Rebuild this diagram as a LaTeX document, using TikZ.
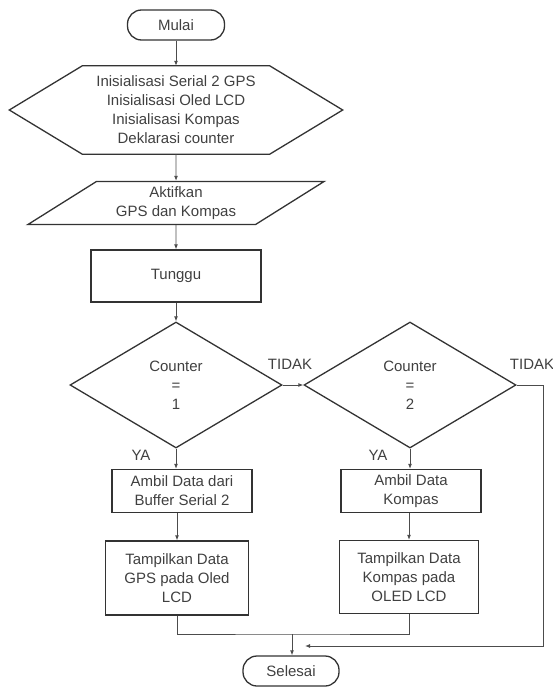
\documentclass[tikz,border=0pt]{standalone}
\usepackage{fontspec}
\setmainfont{Liberation Sans}
\usetikzlibrary{shapes.geometric,arrows.meta}

\begin{document}
\begin{tikzpicture}[x=1pt,y=-1pt, every node/.style={font=\fontsize{15}{19}\selectfont,text=black!75,align=center}, bentuk/.style={draw=black!80,line width=1.3pt}, terminal/.style={bentuk,rounded corners=14pt,minimum height=30pt}, proses/.style={bentuk,rectangle}, keputusan/.style={bentuk,diamond,minimum width=212pt,minimum height=126pt,inner sep=0pt}, masukan/.style={bentuk,trapezium,trapezium left angle=36,trapezium right angle=144,trapezium stretches=true,minimum width=297pt,minimum height=43pt}, garis/.style={draw=black!70,line width=0.9pt}, panah/.style={garis,-{Latex[length=5pt,width=4pt]}}]
\useasboundingbox (0,0) rectangle (553,690);

\node[terminal,minimum width=97pt] (mulai) at (176,25) {Mulai};
\node[minimum width=187pt,minimum height=88pt] (init) at (176,110) {Inisialisasi Serial 2 GPS\\Inisialisasi Oled LCD\\Inisialisasi Kompas\\Deklarasi counter};
\draw[bentuk] (init.north west) -- (init.north east) -- ([xshift=73pt]init.east) -- (init.south east) -- (init.south west) -- ([xshift=-73pt]init.west) -- cycle;
\node[masukan] (aktif) at (176,203) {Aktifkan\\GPS dan Kompas};
\node[proses,minimum width=170pt,minimum height=52pt] (tunggu) at (176,276) {Tunggu};
\node[keputusan] (c1) at (176,385) {Counter\\=\\1};
\node[keputusan] (c2) at (410,385) {Counter\\=\\2};
\node[proses,minimum width=140pt,minimum height=43pt] (ambil1) at (182,491) {Ambil Data dari\\Buffer Serial 2};
\node[proses,minimum width=140pt,minimum height=43pt] (ambil2) at (411,491) {Ambil Data\\Kompas};
\node[proses,minimum width=143pt,minimum height=74pt] (tampil1) at (177,578) {Tampilkan Data\\GPS pada Oled\\LCD};
\node[proses,minimum width=139pt,minimum height=73pt] (tampil2) at (409,577) {Tampilkan Data\\Kompas pada\\OLED LCD};
\node[terminal,minimum width=96pt] (selesai) at (291,671) {Selesai};

\node (tidak1) at (290,364) {TIDAK};
\node (tidak2) at (532,364) {TIDAK};
\node (ya1) at (141,455) {YA};
\node (ya2) at (378,455) {YA};

\coordinate (gabung) at (292,634);
\coordinate (sudut) at (543,646);
\coordinate (masuk) at (305,646);

\draw[panah] (mulai) -- (init.north);
\draw[panah] (init.south) -- (aktif);
\draw[panah] (aktif) -- (tunggu);
\draw[panah] (tunggu) -- (c1);
\draw[panah] (c1) -- (c2);
\draw[panah] (c1.south) -- (c1.south |- ambil1.north);
\draw[panah] (ambil1.south -| tampil1) -- (tampil1);
\draw[panah] (c2.south) -- (c2.south |- ambil2.north);
\draw[panah] (ambil2.south -| tampil2) -- (tampil2);
\draw[garis] (tampil1.south) |- (gabung) -| (tampil2.south);
\draw[panah] (gabung) -- (gabung |- selesai.north);
\draw[panah] (c2.east) -| (sudut) -- (masuk);
\end{tikzpicture}
\end{document}
